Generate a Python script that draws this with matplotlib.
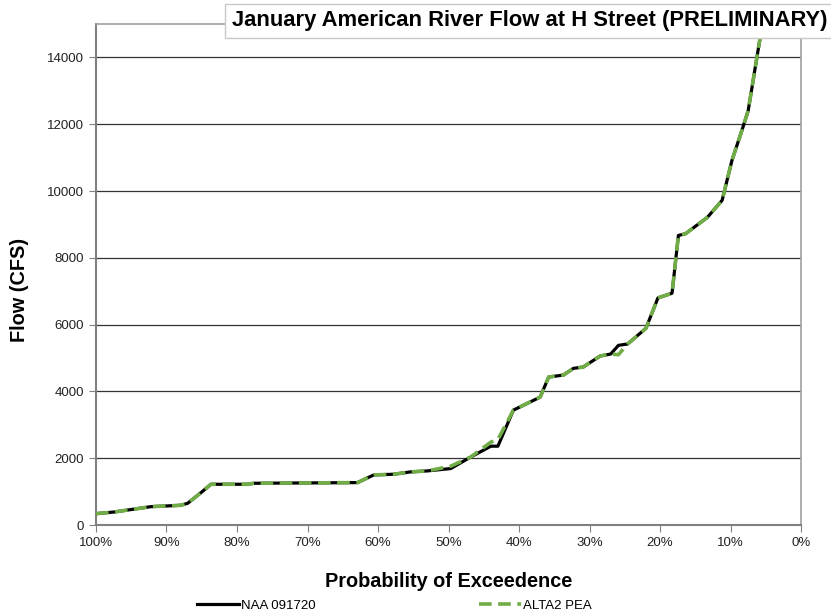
import matplotlib.pyplot as plt
import numpy as np

plt.rcParams['font.family'] = ['Liberation Sans', 'DejaVu Sans']

# Datos (probabilidad de excedencia en %, caudal en CFS)
prob = [100, 97.4, 92.2, 88, 87, 85.1, 83.7, 78.5, 77.6, 62.9, 60.6, 57.8, 55.4, 53,
        49.7, 46.9, 44, 43, 40.8, 37, 35.8, 33.7, 32.3, 30.9, 28.5, 27, 25.9, 24.6,
        22, 20.3, 18.3, 17.4, 16.4, 13.3, 11.2, 9.8, 8.4, 7.5, 6.5, 5.8, 4.8]
naa = [340, 390, 550, 590, 650, 970, 1220, 1220, 1250, 1270, 1500, 1520, 1590, 1620,
       1690, 2030, 2360, 2360, 3440, 3830, 4430, 4490, 4690, 4730, 5060, 5120, 5380, 5420,
       5890, 6800, 6940, 8670, 8720, 9210, 9720, 10920, 11810, 12410, 13700, 14600, 17000]
alta = [340, 390, 550, 590, 650, 970, 1220, 1220, 1250, 1270, 1500, 1520, 1590, 1620,
        1760, 2030, 2480, 2560, 3440, 3830, 4430, 4490, 4690, 4730, 5060, 5120, 5100, 5420,
        5890, 6800, 6940, 8670, 8720, 9210, 9720, 10920, 11810, 12410, 13700, 14600, 17000]

xticks = np.arange(100, -1, -10)
xlabels = [f'{int(v)}%' for v in xticks]
yticks = np.arange(0, 14001, 2000)

fig = plt.figure(figsize=(8.31, 6.16), dpi=100)
ax = fig.add_axes([0.1155, 0.1477, 0.8485, 0.8133])

ax.plot(prob, naa, color='black', lw=2.3, label='NAA 091720', zorder=3)
ax.plot(prob, alta, color='#70AD47', lw=2.6, ls=(0, (3.5, 1.8)), label='ALTA2 PEA', zorder=4)

ax.set_xlim(100, 0)
ax.set_ylim(0, 15000)
ax.set_xticks(xticks)
ax.set_xticklabels(xlabels)
ax.set_yticks(yticks)
ax.yaxis.grid(True, color='#333333', lw=0.9)
ax.set_axisbelow(True)
ax.tick_params(axis='both', direction='out', length=5, color='#808080', labelsize=9.5, labelcolor='#222222')

for s in ['left', 'bottom']:
    ax.spines[s].set_color('#808080')
    ax.spines[s].set_linewidth(1.5)
for s in ['right', 'top']:
    ax.spines[s].set_color('#A0A0A0')
    ax.spines[s].set_linewidth(1.2)

ax.set_xlabel('Probability of Exceedence', fontsize=14.3, fontweight='bold', labelpad=17)
ax.set_ylabel('Flow (CFS)', fontsize=14.3, fontweight='bold')
ax.yaxis.set_label_coords(-0.095, 0.469)

fig.text(0.637, 0.966, 'January American River Flow at H Street (PRELIMINARY)',
         fontsize=15.8, fontweight='bold', ha='center', va='center',
         bbox=dict(boxstyle='square,pad=0.28', facecolor='white', edgecolor='#C8C8C8'))

fig.legend(loc='lower left', bbox_to_anchor=(0.223, -0.012), ncol=2, frameon=False,
           fontsize=9.5, handlelength=3.2, handletextpad=0.1, columnspacing=12.4)

fig.savefig('out.png', dpi=100)
